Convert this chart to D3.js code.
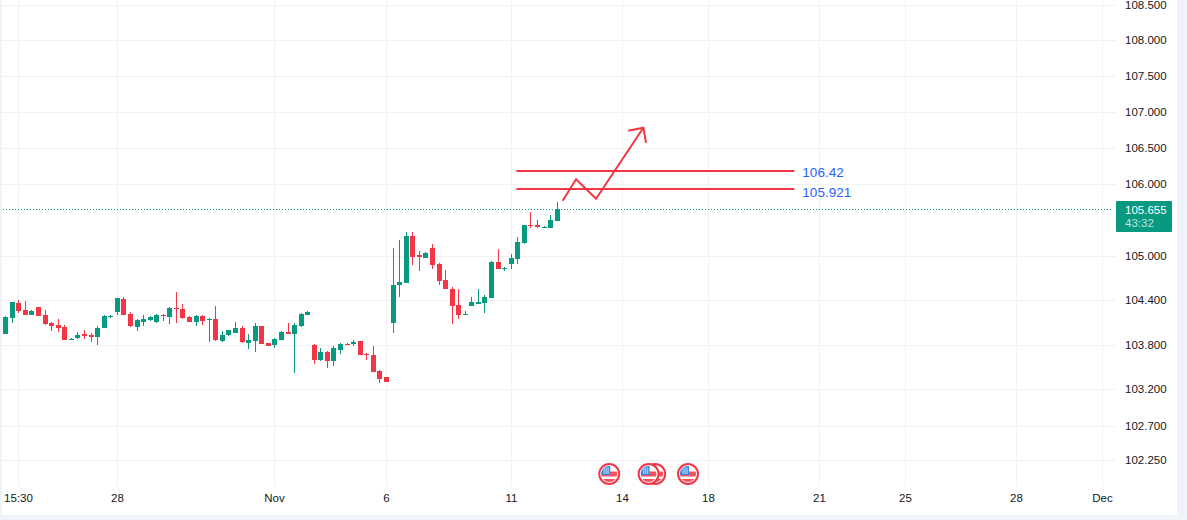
<!DOCTYPE html>
<html>
<head>
<meta charset="utf-8">
<script src="https://d3js.org/d3.v7.min.js"></script>
<style>
    html, body { margin: 0; padding: 0; background: #fff; overflow: hidden; }
    svg { display: block; }
    text { font-family: "Liberation Sans", Arial, sans-serif; }
    .axis text { font-size: 11.5px; fill: #131722; }
    .axis line { stroke: #f1f2f4; }
    .axis .domain { display: none; }
</style>
</head>
<body>
<svg id="chart" width="1187" height="520"></svg>
<script>
    'use strict';

    // one entry per candle
    var opens = [
        103.946, 104.163, 104.367, 104.272, 104.204, 104.312, 104.204, 104.095, 104.068, 104.041,
        103.864, 103.891, 103.946, 103.932, 103.905, 104.027, 104.177, 104.244, 104.421, 104.217,
        104.041, 104.109, 104.136, 104.109, 104.204, 104.177, 104.299, 104.285, 104.177, 104.109,
        104.190, 104.136, 104.149, 103.851, 103.932, 103.959, 104.027, 103.824, 103.851, 104.054,
        103.824, 103.797, 103.864, 103.973, 103.946, 104.054, 104.204, 103.797, 103.595, 103.703,
        103.582, 103.730, 103.810, 103.810, 103.851, 103.676, 103.663, 103.447, 103.366, 104.095,
        104.612, 104.639, 105.281, 105.022, 104.979, 105.116, 104.898, 104.680, 104.558, 104.340,
        104.204, 104.326, 104.354, 104.367, 104.435, 104.925, 104.830, 104.898, 104.966, 105.185,
        105.432, 105.432, 105.391, 105.391, 105.487
    ];
    var highs = [
        104.190, 104.380, 104.407, 104.394, 104.272, 104.312, 104.272, 104.109, 104.149, 104.068,
        103.891, 103.973, 104.000, 103.959, 104.054, 104.204, 104.204, 104.435, 104.448, 104.244,
        104.149, 104.204, 104.190, 104.217, 104.217, 104.312, 104.516, 104.353, 104.190, 104.204,
        104.204, 104.163, 104.326, 103.986, 104.000, 104.109, 104.054, 103.946, 104.095, 104.054,
        103.824, 103.891, 103.986, 104.095, 104.095, 104.231, 104.258, 103.810, 103.756, 103.717,
        103.783, 103.824, 103.824, 103.864, 103.851, 103.690, 103.783, 103.461, 103.366, 105.118,
        105.227, 105.336, 105.336, 105.077, 105.061, 105.171, 104.911, 104.816, 104.585, 104.558,
        104.258, 104.449, 104.558, 104.476, 104.938, 105.103, 104.857, 105.034, 105.267, 105.432,
        105.611, 105.501, 105.418, 105.569, 105.748
    ];
    var lows = [
        103.946, 104.095, 104.231, 104.204, 104.204, 104.190, 104.068, 103.986, 103.973, 103.864,
        103.864, 103.878, 103.878, 103.837, 103.797, 104.027, 104.163, 104.204, 104.204, 104.041,
        103.986, 104.054, 104.122, 104.095, 104.122, 104.081, 104.095, 104.149, 104.109, 104.054,
        104.068, 103.837, 103.851, 103.837, 103.919, 103.959, 103.824, 103.743, 103.702, 103.810,
        103.783, 103.756, 103.864, 103.946, 103.420, 104.041, 104.204, 103.541, 103.582, 103.487,
        103.514, 103.676, 103.797, 103.783, 103.663, 103.595, 103.434, 103.285, 103.299, 103.959,
        104.448, 104.639, 104.885, 104.803, 104.979, 104.830, 104.612, 104.558, 104.082, 104.150,
        104.204, 104.326, 104.354, 104.231, 104.435, 104.830, 104.802, 104.830, 104.898, 105.171,
        105.391, 105.391, 105.391, 105.391, 105.487
    ];
    var closes = [
        104.177, 104.380, 104.258, 104.204, 104.258, 104.190, 104.081, 104.054, 104.027, 103.864,
        103.878, 103.932, 103.919, 103.905, 104.027, 104.190, 104.190, 104.435, 104.204, 104.054,
        104.136, 104.149, 104.177, 104.204, 104.190, 104.299, 104.285, 104.163, 104.109, 104.190,
        104.122, 104.149, 103.864, 103.932, 104.000, 104.027, 103.837, 103.864, 104.054, 103.810,
        103.783, 103.878, 103.973, 103.946, 104.068, 104.217, 104.244, 103.595, 103.703, 103.582,
        103.756, 103.810, 103.797, 103.837, 103.663, 103.663, 103.434, 103.339, 103.299, 104.612,
        104.653, 105.281, 104.995, 104.995, 105.048, 104.884, 104.666, 104.558, 104.326, 104.204,
        104.218, 104.381, 104.381, 104.449, 104.925, 104.830, 104.843, 104.979, 105.199, 105.432,
        105.418, 105.405, 105.405, 105.501, 105.655
    ];

    var priceTicks = [108.5, 108, 107.5, 107, 106.5, 106, 105, 104.4, 103.8, 103.2, 102.7, 102.25];
    var timeTickIndex = [2, 17, 41, 58, 77, 94, 107, 124, 137, 154, 167];
    var timeTickLabels = ['15:30', '28', 'Nov', '6', '11', '14', '18', '21', '25', '28', 'Dec'];

    var lastPrice = 105.655;
    var countdown = '43:32';

    // hand drawn levels: the first label does not sit at its own line in the original
    var levelPrices = [106.175, 105.925];
    var levelLabels = ['106.42', '105.921'];
    var levelStart = 77.85;
    var levelEnd = 120.2;

    var arrowIndex = [84.9, 86.95, 90, 97.2];
    var arrowPrice = [105.766, 106.062, 105.794, 106.778];
    var headIndex = [94.9, 97.2, 97.6];
    var headPrice = [106.736, 106.778, 106.569];

    var eventIndex = [92, 99, 98, 104];

    var green = '#089981', red = '#f23645', blue = '#2962ff', pane = '#f0f3fa';

    var svg = d3.select('#chart');

    var x = d3.scaleLinear().domain([0, 84]).rangeRound([5.2, 556.7]);
    var xFree = d3.scaleLinear().domain([0, 84]).range([5.2, 556.7]);
    var y = d3.scaleLog().domain([108.5, 102.25]).rangeRound([5, 460]);
    var yFree = d3.scaleLog().domain([108.5, 102.25]).range([5, 460]);

    // axes carry the grid too, long ticks reaching across the pane
    var yAxis = d3.axisRight(y)
        .tickValues(priceTicks)
        .tickFormat(d3.format('.3f'))
        .tickSize(-1116)
        .tickPadding(9);
    svg.append('g').attr('class', 'axis')
        .attr('transform', 'translate(1116,0)')
        .call(yAxis);

    var xAxis = d3.axisBottom(x)
        .tickValues(timeTickIndex)
        .tickFormat(function (d, i) { return timeTickLabels[i]; })
        .tickSize(-487)
        .tickPadding(7);
    svg.append('g').attr('class', 'axis')
        .attr('transform', 'translate(0,487)')
        .call(xAxis);

    // last price dotted line
    svg.append('line')
        .attr('x1', 0).attr('x2', 1113)
        .attr('y1', y(lastPrice) + 0.5).attr('y2', y(lastPrice) + 0.5)
        .attr('stroke', green)
        .attr('stroke-dasharray', '1,2');

    // candles
    var candles = svg.append('g').selectAll('g').data(opens).enter().append('g')
        .attr('fill', function (d, i) { return closes[i] >= opens[i] ? green : red; });
    candles.append('rect')
        .attr('x', function (d, i) { return x(i); })
        .attr('width', 1)
        .attr('y', function (d, i) { return y(highs[i]); })
        .attr('height', function (d, i) { return y(lows[i]) - y(highs[i]); });
    candles.append('rect')
        .attr('x', function (d, i) { return x(i) - 2; })
        .attr('width', 5)
        .attr('y', function (d, i) { return y(Math.max(opens[i], closes[i])); })
        .attr('height', function (d, i) {
            return Math.max(1, y(Math.min(opens[i], closes[i])) - y(Math.max(opens[i], closes[i])));
        });

    // drawings
    var drawings = svg.append('g').attr('fill', 'none').attr('stroke', red).attr('stroke-width', 2);
    drawings.selectAll('line').data(levelPrices).enter().append('line')
        .attr('x1', xFree(levelStart)).attr('x2', xFree(levelEnd))
        .attr('y1', function (d) { return y(d); })
        .attr('y2', function (d) { return y(d); });

    var pen = d3.line()
        .x(function (d) { return xFree(d[0]); })
        .y(function (d) { return yFree(d[1]); });
    drawings.append('path').attr('d', pen(d3.zip(arrowIndex, arrowPrice)));
    drawings.append('path').attr('d', pen(d3.zip(headIndex, headPrice)));

    svg.append('g').selectAll('text').data(levelLabels).enter().append('text')
        .attr('x', xFree(levelEnd) + 8)
        .attr('y', function (d, i) { return y(levelPrices[i]) + (i === 0 ? 6 : 8); })
        .attr('fill', blue)
        .attr('font-size', 13.5)
        .text(function (d) { return d; });

    // economic calendar flags
    var defs = svg.append('defs');
    defs.append('clipPath').attr('id', 'flagClip').append('circle').attr('r', 8);

    var flags = svg.append('g').selectAll('g').data(eventIndex).enter().append('g')
        .attr('transform', function (d) { return 'translate(' + xFree(d) + ',474)'; });
    flags.append('circle').attr('r', 10).attr('fill', '#fff').attr('stroke', red).attr('stroke-width', 2);
    var flag = flags.append('g').attr('clip-path', 'url(#flagClip)');
    flag.append('rect').attr('x', -8).attr('y', -8).attr('width', 16).attr('height', 16).attr('fill', '#fff');
    flag.append('rect').attr('x', -8).attr('y', -2.5).attr('width', 16).attr('height', 5).attr('fill', '#f7525f');
    flag.append('rect').attr('x', -8).attr('y', 5).attr('width', 16).attr('height', 3).attr('fill', '#f7525f');
    flag.append('rect').attr('x', -8).attr('y', -8).attr('width', 9).attr('height', 9).attr('fill', '#2e86e8');
    flag.append('path')
        .attr('d', 'M-6,-5H0M-6,-3H0M-6,-1H0M-5,-7V0M-3,-7V0M-1,-7V0')
        .attr('stroke', '#bcd9f8').attr('stroke-width', 0.7);

    // price tag on the axis
    svg.append('rect')
        .attr('x', 1116).attr('y', 201)
        .attr('width', 56).attr('height', 31)
        .attr('rx', 1)
        .attr('fill', green);
    svg.append('text')
        .attr('x', 1125).attr('y', 214)
        .attr('fill', '#fff').attr('font-size', 11.5)
        .text(d3.format('.3f')(lastPrice));
    svg.append('text')
        .attr('x', 1125).attr('y', 227)
        .attr('fill', '#fff').attr('fill-opacity', 0.75).attr('font-size', 11.5)
        .text(countdown);

    // page frame
    svg.append('rect').attr('x', 0).attr('y', 0).attr('width', 2).attr('height', 520).attr('fill', pane);
    svg.append('rect').attr('x', 1177).attr('y', 0).attr('width', 10).attr('height', 520).attr('fill', pane);
    svg.append('rect').attr('x', 0).attr('y', 515).attr('width', 1187).attr('height', 5).attr('fill', pane);
</script>
</body>
</html>
